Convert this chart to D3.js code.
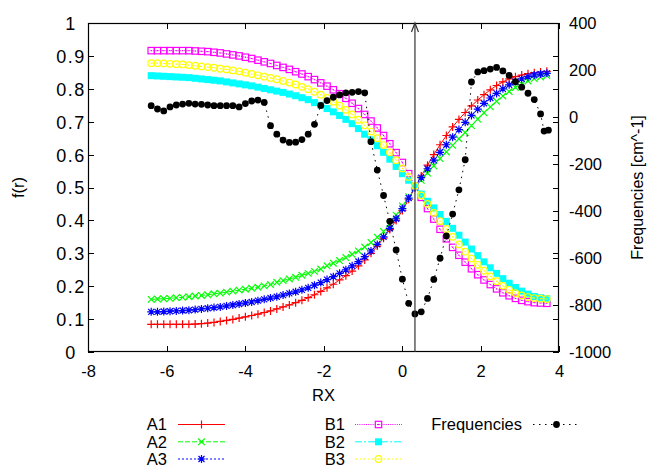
<!DOCTYPE html>
<html><head><meta charset="utf-8">
<script src="https://cdn.jsdelivr.net/npm/d3@7"></script>
<style>
body{margin:0;background:#fff}
svg{display:block;font-family:"Liberation Sans",Arial,Helvetica,sans-serif}
</style>
</head><body>
<svg id="c" width="647" height="467"></svg>
<script>
// ---------- DATA ----------
const rx = [-6.39,-6.23,-6.07,-5.91,-5.75,-5.59,-5.43,-5.27,-5.11,-4.95,-4.79,-4.63,-4.47,-4.31,-4.15,-3.99,
 -3.83,-3.67,-3.51,-3.35,-3.19,-3.03,-2.87,-2.71,-2.55,-2.39,-2.23,-2.07,-1.91,-1.75,-1.59,-1.43,
 -1.27,-1.11,-0.95,-0.79,-0.63,-0.47,-0.31,-0.15,0.01,0.17,0.33,0.49,0.65,0.81,0.97,1.13,
 1.29,1.45,1.61,1.77,1.93,2.09,2.25,2.41,2.57,2.73,2.89,3.05,3.21,3.37,3.53,3.69];

const A1 = [0.084,0.084,0.084,0.084,0.084,0.084,0.084,0.085,0.086,0.088,0.090,0.093,0.096,0.099,0.103,0.107,
 0.111,0.115,0.120,0.125,0.131,0.137,0.143,0.150,0.157,0.165,0.174,0.184,0.195,0.206,0.219,0.232,
 0.246,0.262,0.280,0.300,0.322,0.346,0.372,0.400,0.430,0.464,0.500,0.535,0.568,0.600,0.630,0.658,
 0.684,0.707,0.728,0.748,0.766,0.782,0.797,0.810,0.821,0.830,0.837,0.842,0.846,0.849,0.851,0.853];

const A2 = [0.160,0.161,0.162,0.163,0.165,0.166,0.168,0.170,0.172,0.174,0.177,0.179,0.182,0.185,0.188,0.191,
 0.194,0.197,0.201,0.205,0.212,0.217,0.222,0.227,0.233,0.239,0.245,0.252,0.262,0.270,0.278,0.287,
 0.297,0.307,0.319,0.333,0.349,0.366,0.390,0.416,0.444,0.472,0.500,0.522,0.544,0.566,0.588,0.608,
 0.628,0.648,0.667,0.688,0.708,0.727,0.745,0.762,0.778,0.792,0.804,0.815,0.824,0.831,0.836,0.840];

const A3 = [0.122,0.122,0.123,0.124,0.125,0.126,0.127,0.129,0.131,0.133,0.135,0.137,0.140,0.143,0.146,0.149,
 0.152,0.156,0.160,0.164,0.168,0.173,0.178,0.183,0.189,0.195,0.203,0.211,0.220,0.229,0.239,0.250,
 0.262,0.275,0.290,0.307,0.327,0.350,0.376,0.405,0.436,0.468,0.500,0.530,0.557,0.583,0.607,0.630,
 0.653,0.676,0.698,0.719,0.738,0.756,0.772,0.786,0.800,0.812,0.822,0.830,0.837,0.842,0.845,0.847];

const B1 = [0.916,0.916,0.916,0.916,0.916,0.916,0.916,0.915,0.914,0.913,0.911,0.909,0.906,0.903,0.900,0.896,
 0.892,0.887,0.882,0.877,0.871,0.865,0.859,0.852,0.845,0.837,0.828,0.818,0.808,0.797,0.785,0.771,
 0.756,0.740,0.722,0.702,0.681,0.658,0.633,0.606,0.576,0.542,0.505,0.470,0.436,0.404,0.373,0.344,
 0.318,0.294,0.273,0.253,0.235,0.219,0.205,0.192,0.180,0.171,0.163,0.157,0.153,0.150,0.149,0.148];

const B2 = [0.840,0.839,0.838,0.837,0.836,0.835,0.834,0.832,0.830,0.828,0.826,0.824,0.821,0.818,0.815,0.812,
 0.809,0.805,0.801,0.797,0.793,0.789,0.784,0.779,0.773,0.767,0.758,0.750,0.740,0.730,0.719,0.707,
 0.694,0.679,0.662,0.645,0.627,0.607,0.586,0.564,0.542,0.522,0.505,0.480,0.458,0.438,0.418,0.397,
 0.376,0.355,0.334,0.313,0.293,0.274,0.256,0.239,0.223,0.209,0.196,0.185,0.176,0.169,0.165,0.162];

const B3 = [0.878,0.878,0.877,0.876,0.875,0.874,0.872,0.870,0.868,0.866,0.864,0.861,0.859,0.856,0.853,0.849,
 0.845,0.841,0.837,0.833,0.829,0.824,0.819,0.813,0.806,0.799,0.791,0.782,0.772,0.761,0.749,0.736,
 0.722,0.706,0.689,0.670,0.650,0.629,0.607,0.583,0.558,0.532,0.505,0.476,0.450,0.423,0.398,0.374,
 0.350,0.327,0.305,0.284,0.265,0.247,0.230,0.215,0.201,0.189,0.179,0.172,0.167,0.164,0.162,0.161];

const freqX = rx.slice(0, 63).concat([3.62, 3.73]);
const freq = [48,34,26,43,51,55,58,55,54,51,48,48,48,48,43,57,
 68,72,62,-37,-73,-98,-108,-107,-96,-73,-31,49,70,84,94,103,
 105,108,103,-105,-226,-334,-444,-566,-690,-793,-838,-829,-772,-691,-601,-506,
 -413,-310,-182,149,192,197,204,211,196,177,150,127,101,74,13,-60,-56];

const xTicks = [-8,-6,-4,-2,0,2,4];
const xTickLabels = ["-8","-6","-4","-2","0","2","4"];
const yTicks = [0,0.1,0.2,0.3,0.4,0.5,0.6,0.7,0.8,0.9,1];
const yTickLabels = ["0","0.1","0.2","0.3","0.4","0.5","0.6","0.7","0.8","0.9","1"];
const y2Ticks = [-1000,-800,-600,-400,-200,0,200,400];
const y2TickLabels = ["-1000","-800","-600","-400","-200","0","200","400"];
const markerLine = 0.33;

const seriesNames = ["A1","A2","A3","B1","B2","B3"];
const seriesValues = [A1,A2,A3,B1,B2,B3];
const seriesColors = ["#ff0000","#00ff00","#0000ff","#ff00ff","#00ffff","#ffff00"];
const seriesDash = [null,"5,2","2,2","1,1.2","7,2,2,2","3,2,1,2"];
const seriesMarker = ["plus","cross","star","box","fbox","circle"];

// ---------- CHART ----------
const svg = d3.select("#c");
const L = 88, R = 559, T = 23, B = 352;
const x = d3.scaleLinear().domain([-8,4]).range([L,R]);
const y = d3.scaleLinear().domain([0,1]).range([B,T]);
const y2 = d3.scaleLinear().domain([-1000,400]).range([B,T]);

function styleAxis(g){ g.select(".domain").remove(); g.selectAll("line").attr("stroke","#000").attr("shape-rendering","crispEdges"); }

const gx = svg.append("g").attr("transform",`translate(0,${B})`)
  .call(d3.axisBottom(x).tickValues(xTicks).tickSize(-6).tickPadding(0).tickFormat((d,i)=>xTickLabels[i]));
styleAxis(gx);
gx.selectAll("text").attr("y",25).attr("dy",null).attr("fill","#000").style("font-size","16.5px").style("font-family",null);

const gxt = svg.append("g").attr("transform",`translate(0,${T})`)
  .call(d3.axisTop(x).tickValues(xTicks).tickSize(-6).tickFormat(""));
styleAxis(gxt);

const gy = svg.append("g").attr("transform",`translate(${L},0)`)
  .call(d3.axisLeft(y).tickValues(yTicks).tickSize(-6).tickFormat((d,i)=>yTickLabels[i]));
styleAxis(gy);
gy.selectAll("text").attr("x",-17).attr("dy","0.36em").attr("text-anchor","middle").attr("fill","#000")
  .style("font-size","18px").style("letter-spacing","1.5px").style("font-family",null);

const gyr = svg.append("g").attr("transform",`translate(${R},0)`)
  .call(d3.axisRight(y).tickValues(yTicks).tickSize(-6).tickFormat(""));
styleAxis(gyr);

const gy2 = svg.append("g").attr("transform",`translate(${R},0)`)
  .call(d3.axisRight(y2).tickValues(y2Ticks).tickSize(-6).tickFormat((d,i)=>y2TickLabels[i]));
styleAxis(gy2);
gy2.selectAll("text").attr("x",10).attr("dy","0.36em").attr("text-anchor","start").attr("fill","#000")
  .style("font-size","16.5px").style("font-family",null);

// frame
svg.append("rect").attr("x",L+0.5).attr("y",T+0.5).attr("width",R-L-1).attr("height",B-T-1)
  .attr("fill","none").attr("stroke","#000").attr("stroke-width",1.2);

// axis titles
svg.append("text").attr("x",(L+R)/2).attr("y",401).attr("text-anchor","middle").style("font-size","16.5px").text("RX");
svg.append("text").attr("transform",`translate(24,${(T+B)/2}) rotate(-90)`).attr("text-anchor","middle").style("font-size","16.5px").text("f(r)");
svg.append("text").attr("transform",`translate(643,${(T+B)/2}) rotate(-90)`).attr("text-anchor","middle").style("font-size","16px").text("Frequencies [cm^-1]");

// markers
function drawMarker(g, type, cx, cy, color){
  const sw = 1.2;
  if(type==="plus"){
    g.append("path").attr("d",`M${cx-4},${cy}H${cx+4}M${cx},${cy-4}V${cy+4}`).attr("stroke",color).attr("stroke-width",sw).attr("fill","none");
  } else if(type==="cross"){
    g.append("path").attr("d",`M${cx-3.3},${cy-3.3}L${cx+3.3},${cy+3.3}M${cx-3.3},${cy+3.3}L${cx+3.3},${cy-3.3}`).attr("stroke",color).attr("stroke-width",sw).attr("fill","none");
  } else if(type==="star"){
    g.append("path").attr("d",`M${cx-4},${cy}H${cx+4}M${cx},${cy-4}V${cy+4}M${cx-3},${cy-3}L${cx+3},${cy+3}M${cx-3},${cy+3}L${cx+3},${cy-3}`).attr("stroke",color).attr("stroke-width",sw).attr("fill","none");
  } else if(type==="box"){
    g.append("rect").attr("x",cx-3.2).attr("y",cy-3.2).attr("width",6.4).attr("height",6.4).attr("fill","none").attr("stroke",color).attr("stroke-width",sw);
    g.append("rect").attr("x",cx-0.6).attr("y",cy-0.6).attr("width",1.2).attr("height",1.2).attr("fill",color);
  } else if(type==="fbox"){
    g.append("rect").attr("x",cx-3.5).attr("y",cy-3.5).attr("width",7).attr("height",7).attr("fill",color);
  } else if(type==="circle"){
    g.append("circle").attr("cx",cx).attr("cy",cy).attr("r",3.3).attr("fill","none").attr("stroke",color).attr("stroke-width",sw);
    g.append("rect").attr("x",cx-0.6).attr("y",cy-0.6).attr("width",1.2).attr("height",1.2).attr("fill",color);
  } else if(type==="dot"){
    g.append("circle").attr("cx",cx).attr("cy",cy).attr("r",3.4).attr("fill",color);
  }
}

const plot = svg.append("g");
seriesNames.forEach((name,k)=>{
  const pts = rx.map((xv,i)=>[xv, seriesValues[k][i]]);
  const g = plot.append("g");
  g.append("path").attr("d", d3.line().x(d=>x(d[0])).y(d=>y(d[1]))(pts))
    .attr("fill","none").attr("stroke",seriesColors[k]).attr("stroke-width",1)
    .attr("stroke-dasharray",seriesDash[k]);
  pts.forEach(p=>drawMarker(g, seriesMarker[k], x(p[0]), y(p[1]), seriesColors[k]));
});

// frequencies on y2
const fpts = freqX.map((xv,i)=>[xv,freq[i]]);
const gf = plot.append("g");
gf.append("path").attr("d", d3.line().x(d=>x(d[0])).y(d=>y2(d[1]))(fpts))
  .attr("fill","none").attr("stroke","#000").attr("stroke-width",1).attr("stroke-dasharray","1.5,4.5");
fpts.forEach(p=>drawMarker(gf,"dot",x(p[0]),y2(p[1]),"#000"));

// vertical arrow
const ax = x(markerLine);
svg.append("line").attr("x1",ax).attr("x2",ax).attr("y1",y(0)).attr("y2",y(1)).attr("stroke","#333").attr("stroke-width",1.2);
svg.append("path").attr("d",`M${ax-3.5},${y(1)+9}L${ax},${y(1)}L${ax+3.5},${y(1)+9}`).attr("fill","none").attr("stroke","#333").attr("stroke-width",1.2);

// legend
const legNames = seriesNames.concat(["Frequencies"]);
const legColors = seriesColors.concat(["#000"]);
const legDash = seriesDash.concat(["1.5,4.5"]);
const legMarker = seriesMarker.concat(["dot"]);
const colTextR = [167,345,522], colSample = [178,355,533], sampleW = 47;
const rowY = [424.5,441.8,459];
const leg = svg.append("g");
legNames.forEach((n,i)=>{
  const c = Math.floor(i/3), r = i%3;
  const yy = rowY[r];
  leg.append("text").attr("x",colTextR[c]).attr("y",yy).attr("dy","0.36em").attr("text-anchor","end").style("font-size","16.5px").text(n);
  leg.append("line").attr("x1",colSample[c]).attr("x2",colSample[c]+sampleW).attr("y1",yy).attr("y2",yy)
    .attr("stroke",legColors[i]).attr("stroke-width",1).attr("stroke-dasharray",legDash[i]);
  drawMarker(leg, legMarker[i], colSample[c]+sampleW/2, yy, legColors[i]);
});
</script>
</body></html>
